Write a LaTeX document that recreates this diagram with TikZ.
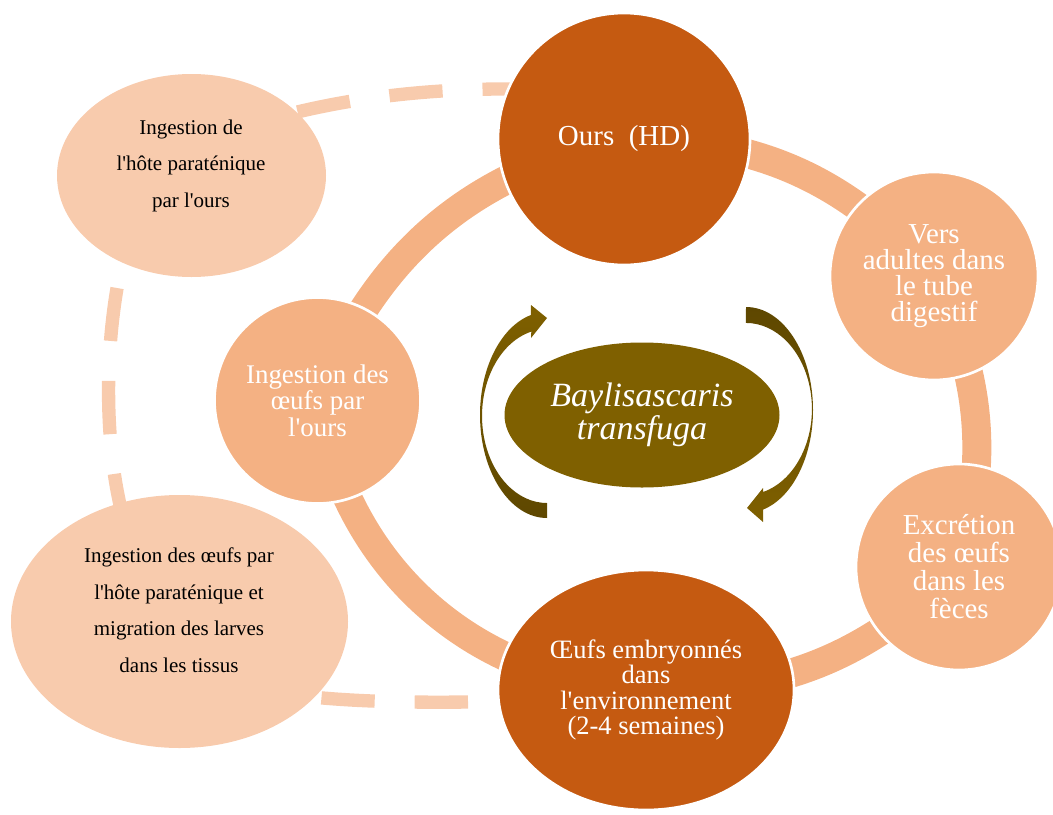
\documentclass[tikz,border=0pt]{standalone}
\usepackage{fontspec}
\setmainfont{Liberation Serif}
\usetikzlibrary{shapes.geometric,backgrounds}

\definecolor{rust}{HTML}{C55A11}
\definecolor{apricot}{HTML}{F4B183}
\definecolor{peach}{HTML}{F8CBAD}
\definecolor{bayolive}{HTML}{7F6000}
\definecolor{bayshade}{HTML}{5E4700}

\tikzset{every picture/.style={line width=0.75pt},
  stage/.style={circle, draw=white, line width=2pt, text=white, align=center, inner sep=0pt},
  darkstage/.style={stage, fill=rust},
  lightstage/.style={stage, fill=apricot},
  hostshape/.style={ellipse, fill=peach, inner sep=0pt},
  hosttext/.style={align=center, text=black, inner sep=0pt, font=\fontsize{15.75}{27.4}\selectfont},
  ring/.style={draw=apricot, line width=21.75pt},
  hostring/.style={draw=peach, line width=10pt, dash pattern=on 40pt off 30pt},
  turnarrow/.style={top color=bayolive, bottom color=bayshade}
}

\begin{document}
\begin{tikzpicture}[x=0.75pt,y=0.75pt,yscale=-1,xscale=1]
	\useasboundingbox (0,0) rectangle (1053,814);
	
	%Dashed Lines [hôte paraténique]
	\draw[hostring] (468,702) .. controls (300,704) and (200,690) .. (150,640) ;
	\draw[hostring, dash phase=59pt] (130,540) .. controls (105,470) and (100,350) .. (125,250) ;
	\draw[hostring, dash phase=33pt] (250,125) .. controls (330,100) and (420,88) .. (520,89) ;
	
	%Shape: Ellipse [hôte paraténique]
	\node[hostshape, minimum width=201.75pt, minimum height=152.25pt] (hostA) at (191.5,175.5) {};
	\node[hostshape, minimum width=252.75pt, minimum height=189.75pt] (hostB) at (179.5,621.5) {};
	% Text Node
	\node[hosttext] (hostAtext) at (191,165.5) {Ingestion de\\l\textquotesingle hôte paraténique\\par l\textquotesingle ours};
	% Text Node
	\node[hosttext] (hostBtext) at (179,610) {Ingestion des œufs par\\l\textquotesingle hôte paraténique et\\migration des larves\\dans les tissus};
	
	%Shape: Circle [cycle]
	\node[darkstage, minimum size=189pt, font=\fontsize{21.75}{23}\selectfont] (ours) at (624,139) {Ours\ \ (HD)};
	\node[lightstage, minimum size=156pt, font=\fontsize{21.7}{19.6}\selectfont] (vers) at (934,276) {Vers\\adultes dans\\le tube\\digestif};
	\node[lightstage, minimum size=154.5pt, font=\fontsize{21.7}{21}\selectfont] (excr) at (959,567) {Excrétion\\des œufs\\dans les\\fèces};
	\node[darkstage, ellipse, minimum width=222pt, minimum height=180pt, font=\fontsize{19.9}{19.2}\selectfont] (oeufs) at (646,690) {Œufs embryonnés\\dans\\l\textquotesingle environnement\\(2-4 semaines)};
	\node[lightstage, minimum size=154.5pt, font=\fontsize{20.2}{19.9}\selectfont] (ingest) at (317.5,400.5) {Ingestion des\\œufs par\\l\textquotesingle ours};
	
	%Curve Lines [cycle]
	\begin{pgfonlayer}{background}
	\draw[ring] (ours.center) to[bend right=24] (vers.center) to[bend right=20] (excr.center) to[bend right=23] (oeufs.center) to[bend right=39] (ingest.center) to[bend right=28] (ours.center) ;
	\end{pgfonlayer}
	
	%Shape: Ellipse [parasite]
	\node[ellipse, fill=bayolive, inner sep=0pt, minimum width=206.25pt, minimum height=108.75pt, text=white, align=center, font=\fontsize{25.5}{22.5}\selectfont\itshape] (bayl) at (642,415) {Baylisascaris\\transfuga};
	
	%Shape: Circular Arrow
	\shade[turnarrow] (547,518) arc[start angle=90, end angle=256, x radius=67, y radius=103] -- (531,305) -- (547,318) -- (531,338) -- (531.3,331.6) arc[start angle=256, end angle=90, x radius=65, y radius=87] -- cycle ;
	%Shape: Circular Arrow
	\shade[turnarrow, top color=bayshade, bottom color=bayolive] (746,307) arc[start angle=-90, end angle=75.3, x radius=67, y radius=103] -- (763,522) -- (747,508) -- (763,488) -- (763,492) arc[start angle=75, end angle=-90, x radius=66, y radius=86] -- cycle ;
	
\end{tikzpicture}
\end{document}
